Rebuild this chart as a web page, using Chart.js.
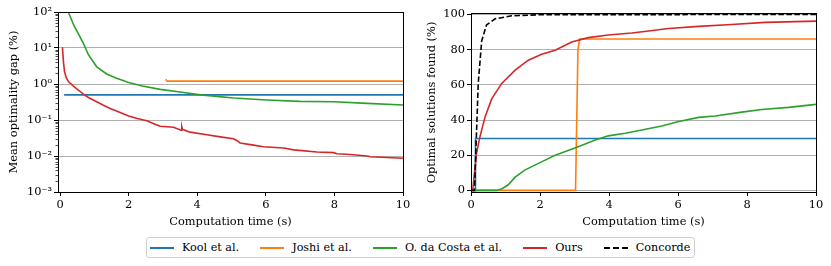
<!DOCTYPE html>
<html>
<head>
<meta charset="utf-8">
<script src="https://cdn.jsdelivr.net/npm/chart.js@4.4.0/dist/chart.umd.min.js"></script>
<style>
  body { margin: 0; background: #fff; width: 831px; height: 266px; position: relative; overflow: hidden; }
  #gapWrap { position: absolute; left: 0; top: 0; width: 415px; height: 232px; }
  #solWrap { position: absolute; left: 415px; top: 0; width: 416px; height: 232px; }
  #legend {
    position: absolute; left: 146px; top: 237px; height: 19px;
    border: 1px solid #d0d0d0; border-radius: 3px;
    display: flex; align-items: center; padding: 0 4px 0 3px;
    font-family: "DejaVu Serif"; font-size: 11.2px; color: #000; white-space: nowrap;
  }
  .item { display: flex; align-items: center; margin-right: 21px; }
  .item:last-child { margin-right: 0; }
  .swatch { width: 24px; height: 0; border-top: 2px solid; margin-right: 8px; }
</style>
</head>
<body>
<div id="gapWrap"><canvas id="chart-gap"></canvas></div>
<div id="solWrap"><canvas id="chart-sol"></canvas></div>
<div id="legend"></div>

<script>
// Series names and colours (matplotlib tab10 + black dashed)
const seriesNames = ["Kool et al.", "Joshi et al.", "O. da Costa et al.", "Ours", "Concorde"];
const seriesColors = ["#1f77b4", "#ff7f0e", "#2ca02c", "#d62728", "#000000"];

// Left panel: mean optimality gap (%) vs computation time (s)
const koolGapT = [0.12, 10];
const koolGap = [0.5, 0.5];
const joshiGapT = [3.08, 3.12, 10];
const joshiGap = [1.35, 1.2, 1.2];
const costaGapT = [0.24, 0.4, 0.55, 0.68, 0.83, 1.07, 1.36, 1.65, 2.0, 2.4, 2.92, 3.5, 4.09, 4.5, 5.06, 6.03, 7.0, 7.98, 8.95, 10];
const costaGap = [100, 43, 23, 13.5, 6.4, 3.0, 1.9, 1.45, 1.1, 0.88, 0.71, 0.6, 0.5, 0.46, 0.41, 0.36, 0.33, 0.32, 0.29, 0.26];
const oursGapT = [0.07, 0.1, 0.13, 0.18, 0.25, 0.39, 0.55, 0.68, 0.85, 1.07, 1.25, 1.46, 1.7, 2.0, 2.25, 2.53, 2.75, 2.92, 3.31, 3.53, 3.55, 3.57, 3.79, 4.28, 4.67, 5.06, 5.15, 5.25, 5.64, 5.93, 6.52, 6.81, 7.49, 7.98, 8.07, 8.46, 8.95, 9.05, 10];
const oursGap = [10.5, 4, 2.2, 1.5, 1.15, 0.87, 0.66, 0.52, 0.41, 0.32, 0.26, 0.21, 0.17, 0.13, 0.11, 0.095, 0.078, 0.067, 0.063, 0.052, 0.065, 0.055, 0.046, 0.039, 0.034, 0.030, 0.027, 0.023, 0.020, 0.018, 0.0166, 0.0148, 0.0129, 0.0124, 0.0115, 0.011, 0.010, 0.0095, 0.0087];

// Right panel: optimal solutions found (%) vs computation time (s)
const koolSolT = [0, 0.12, 0.13, 10];
const koolSol = [0, 0, 29.5, 29.5];
const joshiSolT = [0, 3.03, 3.1, 3.15, 10];
const joshiSol = [0, 0, 80, 86, 86];
const costaSolT = [0, 0.75, 0.9, 1.08, 1.28, 1.57, 2.0, 2.44, 3.07, 3.6, 3.98, 4.47, 4.95, 5.53, 6.02, 6.6, 7.08, 7.85, 8.43, 9.2, 10];
const costaSol = [0, 0, 1, 3.2, 7.5, 11.7, 15.8, 20, 24.5, 28.7, 31, 32.5, 34.3, 36.6, 39.2, 41.5, 42.3, 44.5, 46, 47.2, 48.9];
const oursSolT = [0.05, 0.1, 0.16, 0.26, 0.41, 0.6, 0.89, 1.28, 1.66, 2.05, 2.44, 2.92, 3.4, 3.98, 4.66, 5.15, 5.73, 6.6, 7.56, 8.53, 10];
const oursSol = [0, 9.8, 21, 30.6, 41.9, 52, 60.8, 68.3, 74, 77.4, 79.6, 84.3, 86.8, 88.3, 89.4, 90.6, 92, 93.2, 94.3, 95.5, 96.2];
const concordeSolT = [0, 0.1, 0.21, 0.31, 0.45, 0.7, 1.18, 2, 10];
const concordeSol = [0, 0, 60.8, 85, 94, 97.5, 99.2, 99.8, 100];

// Tick values
const timeTicks = [0, 2, 4, 6, 8, 10];
const gapTicks = [0.001, 0.01, 0.1, 1, 10, 100];
const gapTickLabels = ["10\u207B\u00B3", "10\u207B\u00B2", "10\u207B\u00B9", "10\u2070", "10\u00B9", "10\u00B2"];
const solTicks = [0, 20, 40, 60, 80, 100];

const FONT = { family: "DejaVu Serif", size: 11.4 };

function pts(xs, ys) {
    return xs.map((x, i) => ({ x: x, y: ys[i] }));
}

function makeDataset(idx, xs, ys) {
    return {
        label: seriesNames[idx],
        data: pts(xs, ys),
        borderColor: seriesColors[idx],
        backgroundColor: seriesColors[idx],
        borderWidth: 1.6,
        borderDash: idx === 4 ? [5.5, 2.5] : [],
        pointRadius: 0,
        tension: 0,
        fill: false,
        order: 4 - idx,   // later series drawn on top, like matplotlib
    };
}

// Draws the axes frame (all four spines) and log minor ticks
const framePlugin = {
    id: 'frame',
    afterDraw(chart) {
        const a = chart.chartArea;
        const c = chart.ctx;
        c.save();
        c.strokeStyle = '#000';
        c.lineWidth = 1;
        c.strokeRect(Math.round(a.left) + 0.5, Math.round(a.top) + 0.5,
                     Math.round(a.right - a.left), Math.round(a.bottom - a.top));
        const y = chart.scales.y;
        if (y.type === 'logarithmic') {
            c.lineWidth = 0.7;
            for (let e = -3; e < 2; e++) {
                for (let k = 2; k <= 9; k++) {
                    const py = Math.round(y.getPixelForValue(k * Math.pow(10, e))) + 0.5;
                    c.beginPath();
                    c.moveTo(a.left, py);
                    c.lineTo(a.left - 2.5, py);
                    c.stroke();
                }
            }
        }
        c.restore();
    }
};

function xScale(min, height) {
    return {
        type: 'linear',
        min: min,
        max: 10,
        afterBuildTicks: s => { s.ticks = timeTicks.map(v => ({ value: v })); },
        afterFit: s => { s.height = height; },
        grid: { display: true, drawOnChartArea: false, drawTicks: true, tickLength: 4, tickColor: '#000' },
        border: { display: false },
        ticks: { color: '#000', font: FONT, padding: 2, maxRotation: 0 },
        title: { display: true, text: 'Computation time (s)', color: '#000', font: FONT, padding: { top: 2, bottom: 3 } },
    };
}

function baseOptions(pad) {
    return {
        responsive: true,
        maintainAspectRatio: false,
        animation: false,
        layout: { padding: pad },
        plugins: { legend: { display: false }, tooltip: { enabled: false } },
        events: [],
    };
}

// Left chart: optimality gap (log scale)
const gapOpts = baseOptions({ top: 12, right: 12, left: 0, bottom: 0 });
gapOpts.scales = {
    x: xScale(-0.06, 40),
    y: {
        type: 'logarithmic',
        min: 0.001,
        max: 100,
        afterBuildTicks: s => { s.ticks = gapTicks.map(v => ({ value: v })); },
        afterFit: s => { s.width = 58; },
        grid: {
            color: ctx => (ctx.tick && (ctx.tick.value === 0.001 || ctx.tick.value === 100)) ? 'rgba(0,0,0,0)' : '#b0b0b0',
            lineWidth: 1, drawTicks: true, tickLength: 4, tickColor: '#000',
        },
        border: { display: false },
        ticks: {
            color: '#000', font: FONT, padding: 2,
            callback: (v) => { const i = gapTicks.indexOf(v); return i >= 0 ? gapTickLabels[i] : ''; },
        },
        title: { display: true, text: 'Mean optimality gap (%)', color: '#000', font: FONT, padding: { top: 7, bottom: 2 } },
    },
};

new Chart(document.getElementById("chart-gap").getContext("2d"), {
    type: 'line',
    data: {
        datasets: [
            makeDataset(0, koolGapT, koolGap),
            makeDataset(1, joshiGapT, joshiGap),
            makeDataset(2, costaGapT, costaGap),
            makeDataset(3, oursGapT, oursGap),
        ],
    },
    options: gapOpts,
    plugins: [framePlugin],
});

// Right chart: optimal solutions found (linear)
const solOpts = baseOptions({ top: 13, right: 15, left: 0, bottom: 0 });
solOpts.scales = {
    x: xScale(0, 40),
    y: {
        type: 'linear',
        min: -0.9,
        max: 100.8,
        afterBuildTicks: s => { s.ticks = solTicks.map(v => ({ value: v })); },
        afterFit: s => { s.width = 56; },
        grid: { color: '#b0b0b0', lineWidth: 1, drawTicks: true, tickLength: 4, tickColor: '#000' },
        border: { display: false },
        ticks: { color: '#000', font: FONT, padding: 2 },
        title: { display: true, text: 'Optimal solutions found (%)', color: '#000', font: FONT, padding: { top: 10, bottom: 2 } },
    },
};

new Chart(document.getElementById("chart-sol").getContext("2d"), {
    type: 'line',
    data: {
        datasets: [
            makeDataset(0, koolSolT, koolSol),
            makeDataset(1, joshiSolT, joshiSol),
            makeDataset(2, costaSolT, costaSol),
            makeDataset(3, oursSolT, oursSol),
            makeDataset(4, concordeSolT, concordeSol),
        ],
    },
    options: solOpts,
    plugins: [framePlugin],
});

// Shared legend below both panels
const legendEl = document.getElementById("legend");
seriesNames.forEach((name, i) => {
    const item = document.createElement("div");
    item.className = "item";
    const sw = document.createElement("span");
    sw.className = "swatch";
    sw.style.borderTopColor = seriesColors[i];
    if (i === 4) sw.style.borderTopStyle = "dashed";
    const txt = document.createElement("span");
    txt.textContent = name;
    item.appendChild(sw);
    item.appendChild(txt);
    legendEl.appendChild(item);
});
</script>
</body>
</html>
